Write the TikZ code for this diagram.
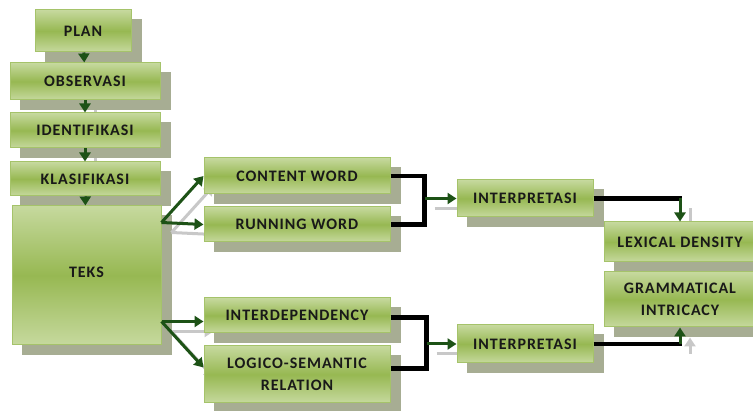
\documentclass[tikz,border=0pt]{standalone}
\usepackage{fontspec}
\setmainfont{Carlito}[LetterSpace=6]
\usepackage{xcolor}
\usepackage{tikz}
\usetikzlibrary{arrows.meta,calc}
\pgfdeclarelayer{shadowlayer}
\pgfdeclarelayer{ghostlayer}
\pgfsetlayers{shadowlayer,ghostlayer,main}
\definecolor{boxtop}{HTML}{C6D99E}
\definecolor{boxmid}{HTML}{97B852}
\definecolor{boxline}{HTML}{A5C36A}
\definecolor{shadowcolor}{HTML}{A7AD93}
\definecolor{arrowcolor}{HTML}{1D5216}
\definecolor{ghostcolor}{HTML}{C8C8C8}
\tikzset{
  stepbox/.style={draw=boxline, line width=1pt, top color=boxtop, bottom color=boxtop, middle color=boxmid,
    font=\fontsize{16}{22}\selectfont\bfseries, text=black!90, align=center, inner sep=0pt},
  flow/.style={draw=arrowcolor, line width=3pt, -{Triangle[length=9pt,width=11pt]}},
  ghost/.style={draw=ghostcolor, line width=3pt, -{Triangle[length=9pt,width=11pt]}},
  bracket/.style={draw=black, line width=4.5pt},
}
% all the arrows, drawn once in colour and once as a grey shadow
\newcommand{\flowpaths}[1]{%
  \draw[#1] (plan) -- (obs);
  \draw[#1] (obs) -- (iden);
  \draw[#1] (iden) -- (klas);
  \draw[#1] (klas) -- (teks);
  \draw[#1] (t1) -- (content.west);
  \draw[#1] (t1) -- (running.west);
  \draw[#1] (t2) -- (interdep.west |- t2);
  \draw[#1] (t2) -- ($(logico.north west)+(0,-22)$);
  \draw[#1] (b1 |- interp1.west) -- (interp1.west);
  \draw[#1] (b2 |- interp2.west) -- (interp2.west);
  \draw[#1] (c1) -- (lexical.north);
  \draw[#1] (c2) -- (gram.south);
}

\begin{document}
\begin{tikzpicture}[x=1pt,y=1pt]
\useasboundingbox (0,0) rectangle (753,410);
% left column
\node[stepbox, minimum width=96, minimum height=42] (plan) at (83,379) {PLAN};
\node[stepbox, minimum width=150, minimum height=37] (obs) at (85,328.5) {OBSERVASI};
\node[stepbox, minimum width=150, minimum height=35] (iden) at (85,279.5) {IDENTIFIKASI};
\node[stepbox, minimum width=150, minimum height=34] (klas) at (85,231) {KLASIFIKASI};
\node[stepbox, minimum width=149, minimum height=139] (teks) at (86.5,134.5) {\raisebox{7pt}{TEKS}};
% middle column
\node[stepbox, minimum width=186, minimum height=36] (content) at (297,234) {CONTENT WORD};
\node[stepbox, minimum width=186, minimum height=35] (running) at (297,185.5) {RUNNING WORD};
\node[stepbox, minimum width=186, minimum height=35] (interdep) at (297,94.5) {INTERDEPENDENCY};
\node[stepbox, minimum width=186, minimum height=57] (logico) at (297,35.5) {LOGICO-SEMANTIC\\RELATION};
\node[stepbox, minimum width=136, minimum height=37] (interp1) at (525,211.5) {INTERPRETASI};
\node[stepbox, minimum width=136, minimum height=38] (interp2) at (525,66) {INTERPRETASI};
% right column
\node[stepbox, minimum width=152, minimum height=40] (lexical) at (680,168) {LEXICAL DENSITY};
\node[stepbox, minimum width=152, minimum height=55] (gram) at (680,110.5) {GRAMMATICAL\\INTRICACY};

% box shadows
\begin{pgfonlayer}{shadowlayer}
\foreach \n in {plan,obs,iden,klas,teks,content,running,interdep,logico,interp1,interp2,lexical,gram}
  \fill[shadowcolor] ($(\n.south west)+(10,-10)$) rectangle ($(\n.north east)+(10,-10)$);
\end{pgfonlayer}

\coordinate (t1) at ($(teks.north east)+(0,-17)$);
\coordinate (t2) at ($(teks.north east)+(0,-116)$);
\coordinate (b1) at ($(content.east)+(34,0)$);
\coordinate (b2) at ($(interdep.east)+(36,-2)$);
\coordinate (c1) at (interp1.east -| lexical.north);
\coordinate (c2) at (interp2.east -| gram.south);

\draw[bracket] (content.east) -- (b1) |- (running.east);
\draw[bracket] ($(interdep.east)+(0,-2)$) -- (b2) |- ($(logico.east)+(0,6)$);
\draw[bracket] (interp1.east) -- ($(c1)+(1.5,0)$);
\draw[bracket] (interp2.east) -- ($(c2)+(1.5,0)$);

\flowpaths{flow}
\begin{pgfonlayer}{ghostlayer}
\begin{scope}[transform canvas={shift={(10pt,-10pt)}}]
\flowpaths{ghost}
\end{scope}
\end{pgfonlayer}
\end{tikzpicture}
\end{document}
